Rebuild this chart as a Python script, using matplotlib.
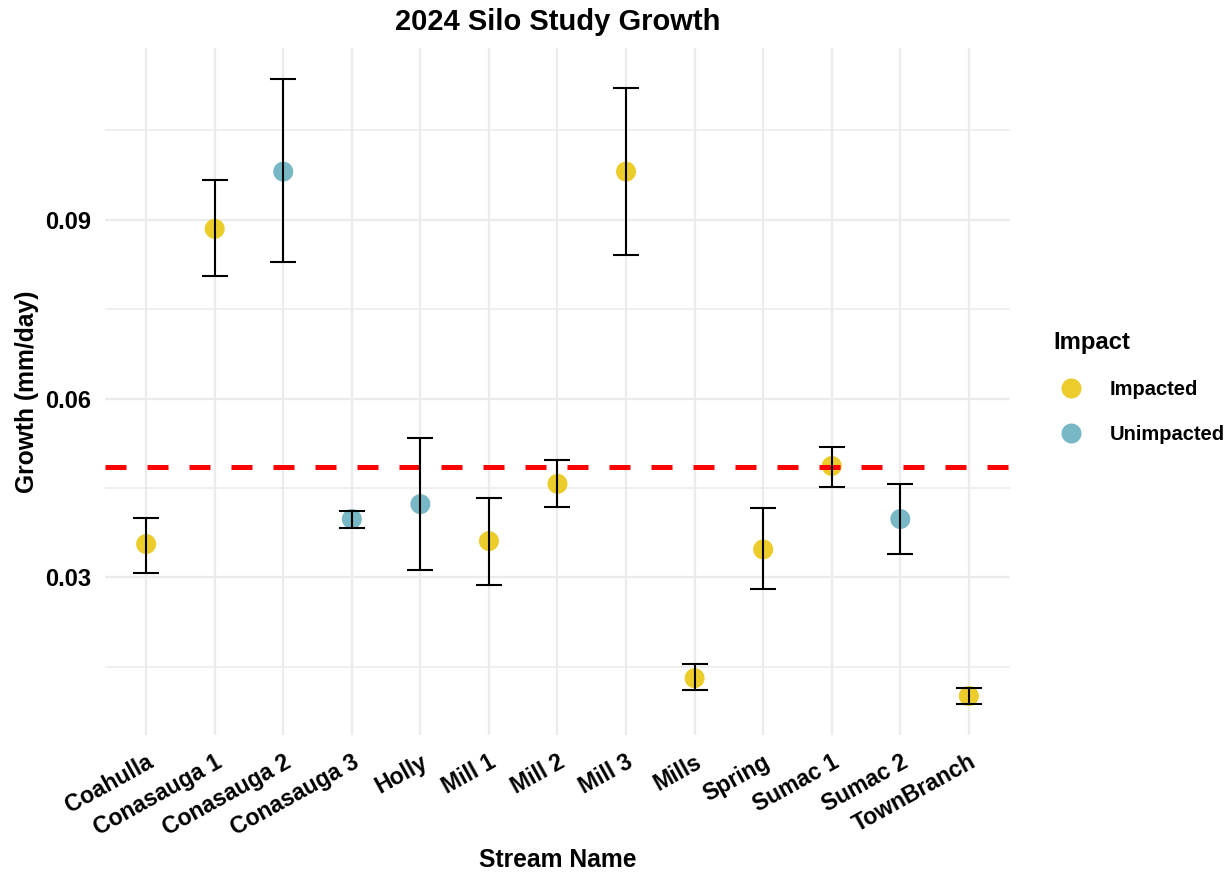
import matplotlib
matplotlib.use("Agg")
import matplotlib.pyplot as plt
from matplotlib.lines import Line2D
import numpy as np

streams = ["Coahulla", "Conasauga 1", "Conasauga 2", "Conasauga 3", "Holly",
           "Mill 1", "Mill 2", "Mill 3", "Mills", "Spring", "Sumac 1",
           "Sumac 2", "TownBranch"]
impact = ["Impacted", "Impacted", "Unimpacted", "Unimpacted", "Unimpacted",
          "Impacted", "Impacted", "Impacted", "Impacted", "Impacted",
          "Impacted", "Unimpacted", "Impacted"]
growth_mean = [0.0356, 0.0885, 0.0981, 0.0398, 0.0423, 0.0361, 0.0457,
               0.0981, 0.0131, 0.0347, 0.0487, 0.0398, 0.0101]
growth_upper = [0.0399, 0.0967, 0.1136, 0.0411, 0.0534, 0.0433, 0.0497,
                0.1122, 0.0155, 0.0416, 0.0519, 0.0457, 0.0115]
growth_lower = [0.0308, 0.0806, 0.0829, 0.0383, 0.0312, 0.0288, 0.0418,
                0.0841, 0.0111, 0.0281, 0.0452, 0.0340, 0.0088]
overall_mean = 0.0485

palette = {"Impacted": "#EBCC2A", "Unimpacted": "#78B7C5"}

plt.rcParams["font.family"] = ["Liberation Sans", "DejaVu Sans"]

fig = plt.figure(figsize=(12.3, 8.73), dpi=100)
ax = fig.add_axes([105 / 1230, 138 / 873, 905 / 1230, 687 / 873])

x = np.arange(len(streams))
mean = np.array(growth_mean)
upper = np.array(growth_upper)
lower = np.array(growth_lower)

colors = [palette[i] for i in impact]
ax.scatter(x, mean, s=14.4 ** 2, c=colors, zorder=3, linewidths=0)
ax.axhline(overall_mean, color="#FF0000", lw=3.6, ls=(0, (4.2, 4.2)), zorder=4)
ax.errorbar(x, mean, yerr=[mean - lower, upper - mean], fmt="none",
            ecolor="black", elinewidth=1.5, capsize=9.7, capthick=1.5, zorder=5)

ymin, ymax = lower.min(), upper.max()
pad = 0.05 * (ymax - ymin)
ax.set_ylim(ymin - pad, ymax + pad)
ax.set_xlim(-0.6, len(streams) - 0.4)

ax.set_yticks([0.03, 0.06, 0.09])
ax.set_yticks([0.015, 0.045, 0.075, 0.105], minor=True)
ax.set_yticklabels(["0.03", "0.06", "0.09"], fontsize=17, fontweight="bold")
ax.set_xticks(x)
ax.set_xticklabels(streams, rotation=29, ha="right", va="top",
                   rotation_mode="anchor", fontsize=16.6, fontweight="bold")
ax.tick_params(axis="both", which="both", length=0)
ax.tick_params(axis="y", pad=10)
ax.tick_params(axis="x", pad=11)

ax.grid(True, which="major", color="#EBEBEB", lw=1.6)
ax.grid(True, which="minor", axis="y", color="#EBEBEB", lw=1.1)
ax.set_axisbelow(True)
for s in ax.spines.values():
    s.set_visible(False)

ax.set_title("2024 Silo Study Growth", fontsize=21, fontweight="bold", pad=13)
ax.set_xlabel("Stream Name", fontsize=17.7, fontweight="bold", labelpad=6)
ax.set_ylabel("Growth (mm/day)", fontsize=17.7, fontweight="bold", labelpad=4.5)

handles = [Line2D([], [], marker="o", ls="none", markersize=14.4,
                  markerfacecolor=palette[k], markeredgewidth=0, label=k)
           for k in ["Impacted", "Unimpacted"]]
leg = fig.legend(handles=handles, title="Impact", loc="upper left",
                 bbox_to_anchor=(1035 / 1230, 1 - 313 / 873), frameon=False,
                 prop={"size": 14.5, "weight": "bold"},
                 title_fontproperties={"size": 17.2, "weight": "bold"},
                 labelspacing=1.3, handletextpad=1.0, handlelength=1.8)
leg._legend_box.align = "left"

fig.savefig("out.png", dpi=100)
